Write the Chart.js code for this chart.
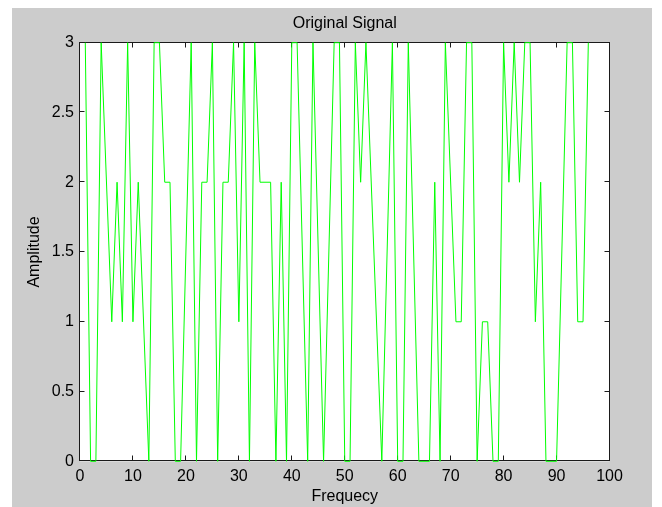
<!DOCTYPE html>
<html><head><meta charset="utf-8">
<script src="https://cdn.jsdelivr.net/npm/chart.js@4.4.0/dist/chart.umd.min.js"></script>
<style>
html,body{margin:0;padding:0;background:#ffffff;}
#bg{position:absolute;left:12px;top:8px;width:640px;height:499px;background:#cccccc;}
#wrap{position:absolute;left:0;top:0;width:662px;height:507px;}
</style></head><body>
<div id="bg"></div>
<div id="wrap"><canvas id="c" width="662" height="507"></canvas></div>
<script>
// Signal vertices (frequency index -> amplitude)
const freq = [1,2,3,4,6,7,8,9,10,11,13,14,15,16,17,18,19,21,22,23,24,25,26,27,28,29,30,31,32,33,34,36,37,38,39,40,41,43,44,46,48,49,50,51,52,53,54,57,59,60,61,62,64,66,67,68,69,71,72,73,74,75,76,77,78,79,80,81,82,83,84,85,86,87,88,90,92,93,94,95,96];
const amplitude = [3,0,0,3,1,2,1,3,1,2,0,3,3,2,2,0,0,3,0,2,2,3,0,2,2,3,1,3,0,3,2,2,0,2,0,3,3,0,3,0,3,3,0,0,3,2,3,0,3,0,0,3,0,0,2,0,3,1,1,3,3,0,1,1,0,0,3,2,3,2,3,3,1,2,0,0,3,3,1,1,3];
const xTicks = [0,10,20,30,40,50,60,70,80,90,100];
const yTicks = [0,0.5,1,1.5,2,2.5,3];
const chartTitle = 'Original Signal';

const FONT = "'Liberation Sans', Arial, sans-serif";
Chart.defaults.font.family = FONT;
Chart.defaults.font.size = 16;
Chart.defaults.color = '#000000';

const boxPlugin = {
  id: 'matlabBox',
  beforeDraw(chart) {
    const {ctx, chartArea: a} = chart;
    ctx.save();
    ctx.fillStyle = '#ffffff';
    ctx.fillRect(a.left, a.top, a.right - a.left, a.bottom - a.top);
    ctx.restore();
  },
  beforeDatasetsDraw(chart) {
    const {ctx, chartArea: a, scales} = chart;
    ctx.save();
    ctx.strokeStyle = '#1a1a1a';
    ctx.lineWidth = 1;
    const L = Math.round(a.left) - 0.5, R = Math.round(a.right) - 0.5;
    const T = Math.round(a.top) - 0.5, B = Math.round(a.bottom) - 0.5;
    ctx.strokeRect(L, T, R - L, B - T);
    ctx.beginPath();
    const tl = 5;
    xTicks.forEach(v => {
      const px = Math.round(scales.x.getPixelForValue(v)) - 0.5;
      ctx.moveTo(px, B); ctx.lineTo(px, B - tl);
      ctx.moveTo(px, T); ctx.lineTo(px, T + tl);
    });
    yTicks.forEach(v => {
      const py = Math.round(scales.y.getPixelForValue(v)) - 0.5;
      ctx.moveTo(L, py); ctx.lineTo(L + tl, py);
      ctx.moveTo(R, py); ctx.lineTo(R - tl, py);
    });
    ctx.stroke();
    // title centred over the axes box
    ctx.fillStyle = '#000000';
    ctx.font = '16px ' + FONT;
    ctx.textAlign = 'center';
    ctx.textBaseline = 'middle';
    ctx.fillText(chartTitle, (a.left + a.right) / 2, 23.5);
    ctx.restore();
  }
};

new Chart(document.getElementById('c'), {
  type: 'line',
  data: {
    datasets: [{
      data: freq.map((x, i) => ({x: x, y: amplitude[i]})),
      borderColor: '#00ff00',
      borderWidth: 1,
      pointRadius: 0,
      tension: 0,
      fill: false,
      clip: 1
    }]
  },
  options: {
    responsive: false,
    animation: false,
    layout: {padding: {left: 0, right: 52.5, top: 42.7, bottom: 0}},
    plugins: {
      legend: {display: false},
      tooltip: {enabled: false},
      title: {display: false}
    },
    scales: {
      x: {
        type: 'linear', min: 0, max: 100,
        afterBuildTicks: s => { s.ticks = xTicks.map(v => ({value: v})); },
        afterFit: s => { s.height = 45.7; },
        grid: {display: false, drawTicks: false},
        border: {display: false},
        ticks: {padding: 6, maxRotation: 0, autoSkip: false, callback: v => String(v)},
        title: {display: true, text: 'Frequecy', font: {size: 16}, padding: {top: 0, bottom: 0.5}}
      },
      y: {
        type: 'linear', min: 0, max: 3,
        afterBuildTicks: s => { s.ticks = yTicks.map(v => ({value: v})); },
        afterFit: s => { s.width = 80; },
        grid: {display: false, drawTicks: false},
        border: {display: false},
        ticks: {padding: 6, autoSkip: false, callback: v => String(v)},
        title: {display: true, text: 'Amplitude', font: {size: 16}, padding: {top: 25, bottom: 0}}
      }
    }
  },
  plugins: [boxPlugin]
});
</script>
</body></html>
